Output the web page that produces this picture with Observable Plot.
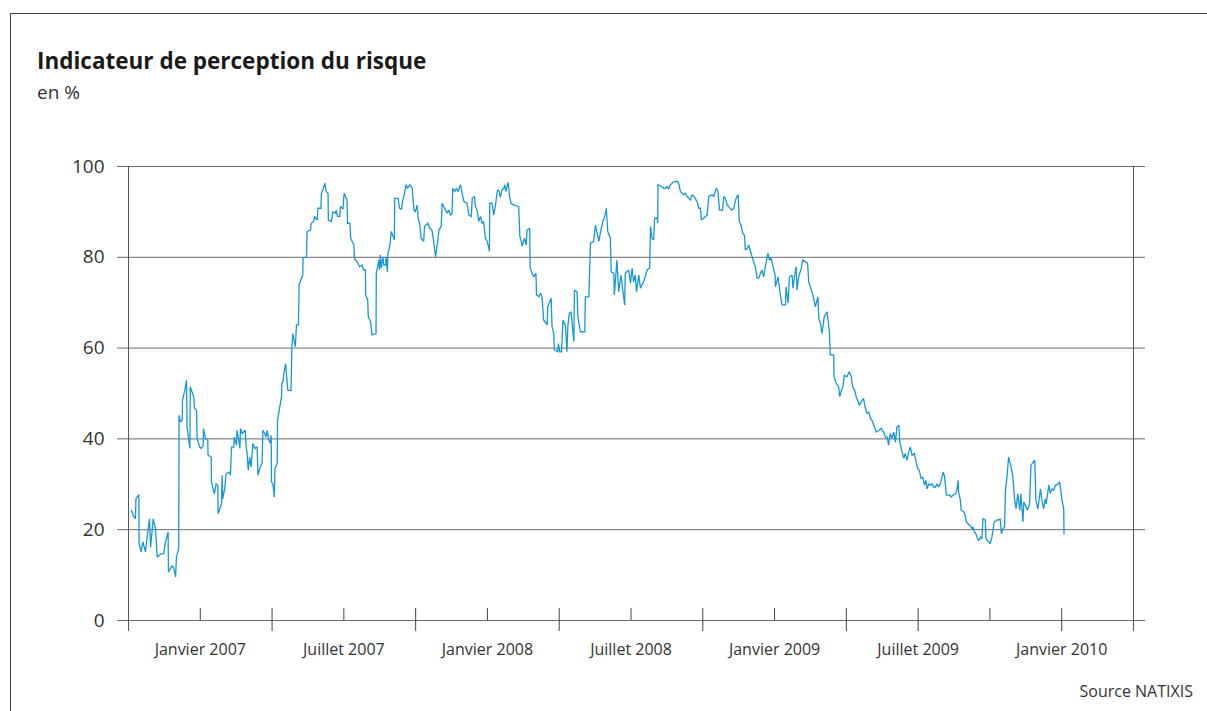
<!DOCTYPE html>
<html><head><meta charset="utf-8">
<script src="https://cdn.jsdelivr.net/npm/d3@7"></script>
<script src="https://cdn.jsdelivr.net/npm/@observablehq/plot@0.6"></script>
<style>
html,body{margin:0;padding:0;background:#fff;}
#wrap{position:relative;width:1207px;height:711px;overflow:hidden;font-family:"Open Sans",sans-serif;}
#chart{position:absolute;left:0;top:0;}
#border{position:absolute;left:10px;top:13px;width:1400px;height:900px;border-left:1px solid #444;border-top:1px solid #444;pointer-events:none;}
#title{position:absolute;left:37px;top:50px;font-size:22.5px;line-height:22.5px;font-weight:700;color:#1a1a1a;white-space:nowrap;}
#subtitle{position:absolute;left:37px;top:83px;font-size:19px;line-height:19px;color:#333;white-space:nowrap;}
#source{position:absolute;right:14px;top:683px;font-size:16px;line-height:16px;color:#333;white-space:nowrap;}
</style>
</head><body>
<div id="wrap">
  <div id="chart"></div>
  <div id="border"></div>
  <div id="title">Indicateur de perception du risque</div>
  <div id="subtitle">en %</div>
  <div id="source">Source NATIXIS</div>
</div>
<script>
// Dates as decimal years, values in %
const dates = [
2006.760,2006.766,2006.774,2006.776,2006.786,2006.787,2006.794,2006.800,2006.809,2006.815,
2006.823,2006.827,2006.836,2006.844,2006.850,2006.861,2006.873,2006.877,2006.888,2006.889,
2006.902,2006.908,2006.914,2006.917,2006.925,2006.926,2006.931,2006.937,2006.938,2006.946,
2006.952,2006.954,2006.964,2006.965,2006.977,2006.980,2006.987,2006.989,2006.998,2007.004,
2007.010,2007.011,2007.018,2007.026,2007.027,2007.038,2007.039,2007.049,2007.055,2007.061,
2007.062,2007.074,2007.076,2007.078,2007.085,2007.090,2007.102,2007.105,2007.109,2007.117,
2007.118,2007.126,2007.128,2007.134,2007.138,2007.140,2007.146,2007.157,2007.159,2007.163,
2007.167,2007.172,2007.177,2007.183,2007.190,2007.198,2007.201,2007.207,2007.215,2007.218,
2007.224,2007.229,2007.233,2007.239,2007.244,2007.247,2007.248,2007.253,2007.258,2007.260,
2007.268,2007.269,2007.283,2007.284,2007.289,2007.291,2007.297,2007.305,2007.316,2007.319,
2007.322,2007.331,2007.335,2007.342,2007.344,
2007.357,2007.358,2007.370,2007.372,2007.384,2007.386,2007.395,2007.398,2007.407,2007.410,
2007.420,2007.422,2007.434,2007.438,2007.445,2007.446,2007.457,2007.461,2007.471,2007.473,
2007.478,2007.486,2007.488,2007.497,2007.501,2007.511,2007.513,2007.521,2007.524,2007.535,
2007.537,2007.549,2007.555,2007.564,2007.569,2007.575,2007.576,2007.583,2007.585,2007.593,
2007.598,2007.612,2007.613,2007.622,2007.624,2007.627,2007.630,2007.636,2007.639,2007.646,
2007.647,2007.652,2007.653,2007.659,2007.662,2007.665,2007.672,2007.676,2007.677,2007.689,
2007.694,2007.701,2007.705,2007.709,2007.717,2007.721,2007.730,2007.738,2007.744,2007.749,
2007.755,2007.759,2007.764,2007.769,2007.778,2007.781,2007.792,2007.799,2007.807,2007.813,
2007.819,2007.827,2007.831,2007.839,2007.842,2007.854,2007.860,2007.865,2007.871,2007.877,
2007.879,2007.886,2007.892,2007.898,2007.906,2007.912,2007.918,2007.929,2007.935,2007.944,
2007.947,
2007.955,2007.958,2007.964,2007.970,2007.976,2007.981,2007.987,2007.993,2007.999,2008.005,
2008.007,2008.008,2008.016,2008.022,2008.028,2008.034,2008.039,2008.045,2008.051,2008.057,
2008.060,2008.064,2008.072,2008.077,2008.082,2008.092,2008.109,2008.113,2008.118,2008.121,
2008.129,2008.135,2008.138,2008.147,2008.149,2008.156,2008.161,2008.169,2008.171,2008.179,
2008.185,2008.190,2008.196,2008.208,2008.210,2008.222,2008.225,2008.231,2008.233,2008.245,
2008.247,2008.252,2008.258,2008.263,2008.272,2008.277,2008.280,2008.285,2008.291,2008.301,
2008.303,2008.312,2008.315,2008.324,2008.339,2008.341,2008.353,2008.359,2008.370,2008.376,
2008.382,2008.388,2008.393,2008.403,2008.407,2008.414,2008.419,2008.428,2008.431,2008.440,
2008.442,2008.451,2008.457,2008.465,2008.478,2008.480,2008.492,2008.498,2008.504,2008.509,
2008.515,2008.519,2008.527,2008.533,2008.544,2008.556,2008.565,2008.568,
2008.573,2008.579,2008.582,2008.591,2008.593,2008.594,2008.606,2008.614,2008.620,2008.626,
2008.631,2008.637,2008.643,2008.652,2008.663,2008.666,2008.672,2008.678,2008.684,2008.689,
2008.695,2008.701,2008.707,2008.713,2008.724,2008.732,2008.736,2008.742,2008.745,2008.753,
2008.765,2008.771,2008.782,2008.788,2008.797,2008.803,2008.808,2008.819,2008.823,2008.829,
2008.835,2008.840,2008.850,2008.858,2008.864,2008.869,2008.873,2008.877,2008.883,2008.889,
2008.895,2008.898,2008.906,2008.910,2008.918,2008.925,2008.933,2008.939,2008.945,2008.951,
2008.956,2008.962,2008.968,2008.977,2008.982,2008.988,2008.995,2009.002,2009.003,2009.012,
2009.020,2009.026,2009.038,2009.040,2009.047,2009.052,2009.061,2009.064,2009.070,2009.075,
2009.078,2009.084,2009.093,2009.098,2009.115,2009.119,2009.130,2009.136,2009.142,2009.151,
2009.154,2009.160,2009.165,
2009.173,2009.183,2009.191,2009.194,2009.206,2009.207,2009.215,2009.223,2009.227,2009.233,
2009.238,2009.243,2009.252,2009.260,2009.267,2009.272,2009.279,2009.284,2009.289,2009.295,
2009.305,2009.310,2009.314,2009.322,2009.328,2009.334,2009.339,2009.348,2009.354,2009.363,
2009.371,2009.380,2009.386,2009.392,2009.397,2009.403,2009.409,2009.415,2009.421,2009.426,
2009.433,2009.436,2009.440,2009.450,2009.455,2009.461,2009.467,2009.473,2009.479,2009.487,
2009.493,2009.498,2009.504,2009.510,2009.516,2009.522,2009.527,2009.531,2009.537,2009.542,
2009.548,2009.554,2009.560,2009.566,2009.572,2009.577,2009.587,2009.591,2009.595,2009.598,
2009.610,2009.616,2009.621,2009.630,2009.635,2009.639,2009.641,2009.647,2009.650,2009.659,
2009.664,2009.668,2009.674,2009.679,2009.688,2009.691,2009.696,2009.701,2009.707,2009.711,
2009.717,2009.722,2009.726,2009.734,2009.736,2009.746,2009.751,2009.757,2009.765,2009.775,
2009.780,2009.786,2009.790,2009.795,2009.801,2009.804,2009.809,2009.815,2009.824,2009.830,
2009.835,2009.841,2009.847,2009.854,2009.858,2009.865,2009.868,2009.876,2009.881,2009.888,
2009.893,2009.906,2009.910,2009.917,2009.926,2009.931,2009.937,2009.943,2009.946,2009.955,
2009.960,2009.966,2009.972,2009.978,2009.984,2009.993,2010.001,2010.007,2010.008
];
const values = [
24.3,23.2,22.4,26.8,27.7,16.9,15.1,17.3,15.1,18.4,
22.4,16.2,22.4,20.2,14.0,14.6,14.7,16.9,19.5,10.7,
12.1,11.4,9.6,14.0,15.8,45.2,43.8,44.1,48.5,50.7,
52.9,42.6,37.9,51.5,49.3,46.7,46.3,40.1,38.2,37.9,
38.6,42.3,40.1,39.7,36.4,36.0,30.5,27.9,30.1,29.8,
23.5,25.7,32.0,26.8,29.0,32.4,32.7,32.0,38.2,38.2,
40.4,38.6,41.9,39.7,37.9,42.3,41.2,41.9,38.6,36.8,
33.1,36.0,33.8,39.0,37.9,38.2,32.0,33.5,34.6,41.9,
41.2,40.4,41.9,39.7,39.1,40.8,30.5,30.1,27.2,33.5,
34.6,44.1,49.3,52.2,52.9,54.4,56.6,50.7,50.7,60.3,
63.2,60.3,65.1,65.1,73.9,
76.1,79.8,80.1,85.7,86.0,87.5,87.9,89.0,88.2,90.8,
90.8,94.1,96.3,94.5,94.1,88.2,87.9,90.0,89.7,90.4,
89.0,89.0,91.2,90.6,94.1,92.6,87.5,87.5,84.2,82.7,
79.8,78.7,77.9,78.3,77.2,77.2,71.7,70.6,66.9,65.8,
62.9,63.2,76.5,79.4,77.2,80.5,77.6,80.1,78.3,78.3,
80.1,76.7,80.5,82.4,83.5,85.7,84.6,83.8,93.0,93.0,
90.8,90.6,92.6,93.4,96.0,95.2,96.0,95.2,90.4,90.1,
91.5,88.6,87.5,84.2,83.5,86.8,87.5,86.4,86.0,83.4,
80.1,83.5,86.0,86.8,91.9,90.4,89.7,90.4,89.3,89.7,
95.2,94.5,95.2,94.5,96.0,94.1,92.3,91.9,89.3,89.0,
93.0,
93.4,91.2,90.4,87.9,89.0,87.5,87.9,84.2,83.5,82.0,
81.3,91.9,91.9,89.3,91.5,94.5,94.9,93.2,94.9,95.2,
96.0,94.5,96.5,93.4,91.9,91.5,91.2,84.6,83.5,82.4,
84.2,82.7,86.0,86.4,77.6,76.5,75.7,76.5,71.7,71.3,
72.1,71.3,66.2,65.1,69.1,71.0,64.7,63.2,59.6,59.2,
61.0,59.2,59.2,66.2,64.7,59.2,64.7,67.6,68.0,61.4,
72.8,72.4,66.9,63.6,63.6,71.3,71.3,83.1,83.5,87.1,
85.3,83.5,85.3,88.2,88.6,90.8,85.7,84.2,76.8,76.5,
71.7,79.4,72.4,76.1,69.5,76.5,77.2,74.3,77.6,74.6,
76.1,72.4,76.1,73.2,74.6,77.2,77.6,86.8,
84.2,83.8,88.6,88.6,87.5,96.0,95.6,95.2,95.2,95.6,
95.0,96.0,96.3,96.7,96.7,96.3,94.5,94.1,93.8,94.1,
93.4,93.0,92.6,93.8,93.0,91.9,90.8,90.8,88.2,88.6,
89.3,93.4,93.8,93.4,95.2,94.5,90.4,90.4,93.4,93.0,
91.5,91.2,90.4,90.8,92.6,93.4,93.8,87.9,87.1,85.3,
84.9,81.6,82.0,82.7,80.9,79.4,77.9,75.4,75.4,76.5,
77.2,75.7,77.9,80.9,79.4,79.8,77.9,76.1,73.5,75.7,
71.7,69.5,69.5,73.5,69.9,75.7,76.1,73.2,76.1,77.9,
72.8,75.7,77.6,79.4,78.7,74.6,72.4,70.9,69.1,71.3,
66.5,65.4,63.2,
66.9,68.0,63.6,58.5,58.5,53.7,52.2,51.5,49.3,50.7,
51.5,54.0,53.7,54.8,53.7,51.5,50.7,49.3,48.5,47.4,
48.5,48.9,47.4,45.6,45.9,44.5,44.1,42.6,41.5,41.9,
42.3,41.5,40.4,40.4,38.6,41.2,40.1,41.5,39.3,42.6,
43.0,39.3,38.2,35.7,36.8,35.3,37.1,38.2,36.4,36.8,
34.9,33.5,33.1,31.3,31.6,29.8,30.9,29.0,30.1,29.8,
30.1,29.4,29.4,30.1,29.4,30.1,32.7,32.0,29.8,27.6,
27.6,27.2,27.6,27.9,28.7,30.9,28.3,26.5,24.3,23.9,
23.2,21.7,21.3,21.0,20.2,20.6,19.5,19.1,18.0,17.6,
18.4,18.0,22.4,22.1,18.0,17.3,16.9,18.4,21.7,22.2,
22.1,22.4,19.1,20.2,20.6,28.7,31.3,36.0,33.8,31.6,
27.2,24.6,27.9,24.3,27.9,21.7,26.1,25.0,24.3,25.7,
34.2,35.3,26.5,24.6,29.0,26.5,24.6,26.8,25.7,29.8,
28.0,29.0,28.7,29.8,29.8,30.5,26.5,24.6,19.1
];

const xDomain = [2006.75, 2010.25];
const yTicks = [0, 20, 40, 60, 80, 100];
const shortTicks = [2007, 2007.5, 2008, 2008.5, 2009, 2009.75];
const longTicks = [2007.25, 2007.75, 2008.25, 2008.75, 2009.25, 2009.5, 2010];
const labelYears = [2007, 2007.5, 2008, 2008.5, 2009, 2009.5, 2010];
const labelTexts = ["Janvier 2007", "Juillet 2007", "Janvier 2008", "Juillet 2008", "Janvier 2009", "Juillet 2009", "Janvier 2010"];

const series = dates.map((d, i) => ({year: d, value: values[i]}));

const chart = Plot.plot({
  width: 1207,
  height: 711,
  marginLeft: 128,
  marginRight: 74,
  marginTop: 166,
  marginBottom: 91,
  style: {fontFamily: "'Open Sans', sans-serif", background: "transparent", overflow: "visible"},
  x: {type: "linear", domain: xDomain, axis: null, label: null},
  y: {domain: [0, 100], axis: null, label: null},
  marks: [
    Plot.ruleY(yTicks, {stroke: "#6a6a6a", strokeWidth: 1, insetLeft: -11, insetRight: -12}),
    Plot.ruleX(xDomain, {stroke: "#555", strokeWidth: 1, insetBottom: -11}),
    Plot.ruleX(shortTicks, {y1: 0, y2: 0, insetTop: -12, stroke: "#444", strokeWidth: 1}),
    Plot.ruleX(longTicks, {y1: 0, y2: 0, insetTop: -12, insetBottom: -11, stroke: "#444", strokeWidth: 1}),
    Plot.line(series, {x: "year", y: "value", stroke: "#1798d6", strokeWidth: 1.3, strokeLinejoin: "miter", strokeMiterlimit: 2}),
    Plot.axisY({ticks: yTicks, tickSize: 0, tickPadding: 24, fontSize: 19, fill: "#333", label: null, tickFormat: d => String(d)}),
    Plot.axisX({ticks: labelYears, tickSize: 0, tickPadding: 23, fontSize: 16, fill: "#333", label: null,
      tickFormat: d => labelTexts[labelYears.indexOf(d)]})
  ]
});
document.getElementById("chart").appendChild(chart);
</script>
</body></html>
